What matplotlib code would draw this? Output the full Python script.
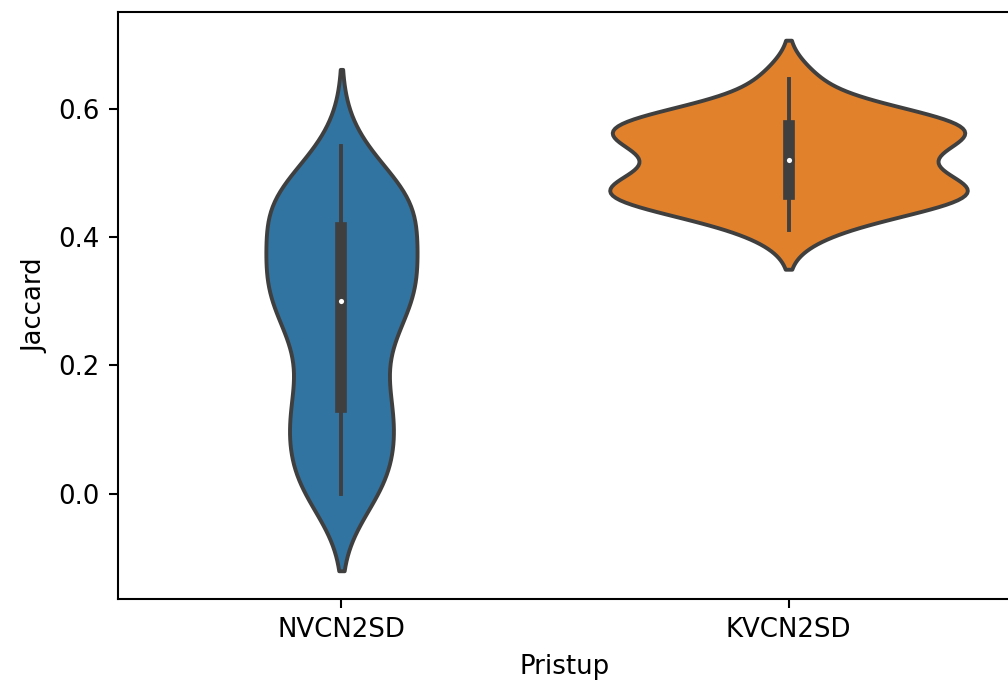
import matplotlib
matplotlib.use('Agg')
import matplotlib.pyplot as plt
import numpy as np

# categories on the x axis
groups = ['NVCN2SD', 'KVCN2SD']

# Jaccard scores per approach (estimated from the violins and inner boxes)
nvcn2sd = [0.0, 0.0, 0.02, 0.045, 0.07, 0.09, 0.11, 0.128, 0.143, 0.165,
           0.2, 0.23, 0.256, 0.275, 0.29, 0.301, 0.314, 0.328, 0.342,
           0.355, 0.367, 0.38, 0.395, 0.433, 0.44, 0.447, 0.455, 0.463,
           0.472, 0.485, 0.5415]
kvcn2sd = [0.411, 0.44, 0.454, 0.461, 0.465, 0.467, 0.472, 0.478, 0.488,
           0.505, 0.5195, 0.536, 0.548, 0.555, 0.561, 0.574, 0.576, 0.579,
           0.584, 0.596, 0.646]

# kde bandwidth (tip distance from min/max is 2*bw)
bandwidths = [0.06, 0.0305]

colors = ['#3274a1', '#e1812c']
gray = '#3f3f3f'

plt.rcParams['font.family'] = ['DejaVu Sans']

fig = plt.figure(figsize=(1008 / 187, 684 / 187), dpi=187)
ax = fig.add_axes([0.117, 0.1243, 0.887, 0.8582])


def gauss_kde(values, bw, grid):
    v = np.asarray(values)[:, None]
    k = np.exp(-0.5 * ((grid[None, :] - v) / bw) ** 2)
    return k.sum(axis=0) / (len(values) * bw * np.sqrt(2 * np.pi))


# density of each group, like seaborn's violinplot (cut=2, gridsize=100)
supports = []
densities = []
for vals, bw in zip([nvcn2sd, kvcn2sd], bandwidths):
    grid = np.linspace(min(vals) - 2 * bw, max(vals) + 2 * bw, 100)
    supports.append(grid)
    densities.append(gauss_kde(vals, bw, grid))

# scale='area': all violins share one normalisation
peak = max(d.max() for d in densities)
half_width = 0.4

for i, vals in enumerate([nvcn2sd, kvcn2sd]):
    d = densities[i] / peak * half_width
    ax.fill_betweenx(supports[i], i - d, i + d, facecolor=colors[i],
                     edgecolor=gray, linewidth=1.5, zorder=1)

    data = np.asarray(vals)
    q25, q50, q75 = np.percentile(data, [25, 50, 75])
    lim = 1.5 * (q75 - q25)
    lo = data[data >= q25 - lim].min()
    hi = data[data <= q75 + lim].max()
    ax.plot([i, i], [lo, hi], color=gray, linewidth=1.5, zorder=2)
    ax.plot([i, i], [q25, q75], color=gray, linewidth=4.5, zorder=2)
    ax.scatter(i, q50, s=9, color='white', edgecolor=gray, zorder=3)

ax.set_xlim(-0.5, 1.5)
ax.set_ylim(-0.164, 0.751)
ax.set_xticks(range(len(groups)))
ax.set_xticklabels(groups)
ax.set_yticks([0.0, 0.2, 0.4, 0.6])
ax.set_xlabel('Pristup')
ax.set_ylabel('Jaccard')

fig.savefig('out.png', dpi=187)
